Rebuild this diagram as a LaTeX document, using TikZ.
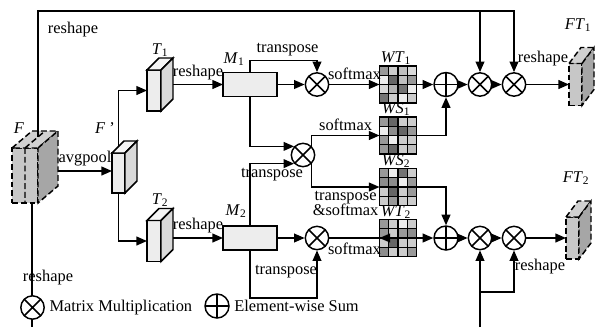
\documentclass[tikz,border=0pt]{standalone}
\usepackage{fontspec}
\setmainfont{Liberation Serif}
\usetikzlibrary{arrows.meta, calc}

\begin{document}
\begin{tikzpicture}[x=0.03cm, y=-0.03cm, line width=1.25pt,
  font=\fontsize{14}{15.5}\selectfont,
  arr/.style={-{Triangle[length=9pt,width=7.5pt]}},
  mul/.style={circle, draw, fill=white, minimum size=0.7cm, inner sep=0pt,
    path picture={\draw (path picture bounding box.north west) -- (path picture bounding box.south east)
      (path picture bounding box.north east) -- (path picture bounding box.south west);}},
  add/.style={circle, draw, fill=white, minimum size=0.72cm, inner sep=0pt,
    path picture={\draw (path picture bounding box.north) -- (path picture bounding box.south)
      (path picture bounding box.west) -- (path picture bounding box.east);}},
  box/.style={draw, fill=black!7, inner sep=0pt, outer sep=0pt},
  dsh/.style={dash pattern=on 5pt off 2.5pt},
  feat/.style={draw, dsh, fill=black!22, inner sep=0pt, outer sep=0pt},
  mat/.style={minimum size=1.11cm, inner sep=0pt, outer sep=0pt},
  cell/.style={draw, line width=0.9pt}]
\useasboundingbox (0,0) rectangle (600,327);

% input feature F
\node[feat, minimum width=0.78cm, minimum height=1.65cm] (F) at (25,175.5) {};
\filldraw[dsh, fill=black!18] (F.north west) -- ++(20,-17) -- ++(26,0) -- (F.north east) -- cycle;
\filldraw[dsh, fill=black!35] (F.north east) -- ++(20,-17) -- ++(0,55) -- (F.south east) -- cycle;
\draw[dsh] (F.north) -- (F.south) (F.north) -- ++(20,-17);
\node (lF) at (19,128) {\textit{F}};
\coordinate (Ftop) at (38,137);
\coordinate (Fbot) at (32,203);
\coordinate (Fside) at (58,171);

% pooled feature and T1, T2
\node[box, minimum width=0.39cm, minimum height=1.2cm] (Fp) at (118.5,173) {};
\filldraw[fill=black!4] (Fp.north west) -- ++(12,-12) -- ++(13,0) -- (Fp.north east) -- cycle;
\filldraw[fill=black!15] (Fp.north east) -- ++(12,-12) -- ++(0,40) -- (Fp.south east) -- cycle;
\node (lFp) at (105,128) {\textit{F} '};

\node[box, minimum width=0.42cm, minimum height=1.23cm] (T1) at (154,90.5) {};
\filldraw[fill=black!4] (T1.north west) -- ++(12,-12) -- ++(14,0) -- (T1.north east) -- cycle;
\filldraw[fill=black!15] (T1.north east) -- ++(12,-12) -- ++(0,41) -- (T1.south east) -- cycle;
\node (lT1) at (160,50) {\textit{T}\textsubscript{1}};
\coordinate (T1s) at ($(T1.east)+(12,-6)$);

\node[box, minimum width=0.42cm, minimum height=1.23cm] (T2) at (154,241) {};
\filldraw[fill=black!4] (T2.north west) -- ++(12,-12) -- ++(14,0) -- (T2.north east) -- cycle;
\filldraw[fill=black!15] (T2.north east) -- ++(12,-12) -- ++(0,41) -- (T2.south east) -- cycle;
\node (lT2) at (160,200) {\textit{T}\textsubscript{2}};
\coordinate (T2s) at ($(T2.east)+(12,-6)$);

% M1, M2
\node[box, minimum width=1.62cm, minimum height=0.72cm] (M1) at (250,84.5) {};
\node (lM1) at (234,59) {\textit{M}\textsubscript{1}};
\node[box, minimum width=1.62cm, minimum height=0.72cm] (M2) at (250,238) {};
\node (lM2) at (236,211) {\textit{M}\textsubscript{2}};

% operators
\node[mul] (a1) at (317,84.5) {};
\node[mul] (m) at (303,155) {};
\node[mul] (a2) at (317,238) {};
\node[add] (p1) at (446,84.5) {};
\node[mul] (r1a) at (480,84.5) {};
\node[mul] (r1b) at (514,84.5) {};
\node[add] (p2) at (446,238) {};
\node[mul] (r2a) at (480,238) {};
\node[mul] (r2b) at (514,238) {};

% weight matrices
\node[mat] (wt1) at (398,84.5) {};
\node[mat] (ws1) at (398,135.5) {};
\node[mat] (ws2) at (398,187) {};
\node[mat] (wt2) at (398,238) {};
\foreach \m/\vals in {wt1/{40,20,25,15,7,60,25,40,15,30,55,7,55,20,7,20},
                      ws1/{40,60,20,20,7,45,60,40,40,7,20,20,40,60,20,25},
                      ws2/{40,7,55,20,45,45,7,40,20,60,20,40,20,40,20,20},
                      wt2/{40,20,7,20,40,20,40,45,20,60,20,20,45,20,20,40}}
  \foreach \g [count=\i from 0] in \vals
    \filldraw[cell, fill=black!\g] ($(\m.north west)+({mod(\i,4)*9.25},{int(\i/4)*9.25})$) rectangle ++(9.25,9.25);
\node (lWT1) at (396,58) {\textit{WT}\textsubscript{1}};
\node (lWS1) at (396,109) {\textit{WS}\textsubscript{1}};
\node (lWS2) at (396,161) {\textit{WS}\textsubscript{2}};
\node (lWT2) at (396,212) {\textit{WT}\textsubscript{2}};

% outputs
\node[feat, minimum width=0.39cm, minimum height=1.26cm] (FT1) at (575.5,84.5) {};
\filldraw[dsh, fill=black!18] (FT1.north west) -- ++(12,-16) -- ++(13,0) -- (FT1.north east) -- cycle;
\filldraw[dsh, fill=black!35] (FT1.north east) -- ++(12,-16) -- ++(0,42) -- (FT1.south east) -- cycle;
\node (lFT1) at (578,25) {\textit{FT}\textsubscript{1}};
\node[feat, minimum width=0.39cm, minimum height=1.26cm] (FT2) at (572.5,238) {};
\filldraw[dsh, fill=black!18] (FT2.north west) -- ++(12,-16) -- ++(13,0) -- (FT2.north east) -- cycle;
\filldraw[dsh, fill=black!35] (FT2.north east) -- ++(12,-16) -- ++(0,42) -- (FT2.south east) -- cycle;
\node (lFT2) at (576,178) {\textit{FT}\textsubscript{2}};

% long skip lines
\coordinate (topR) at (514,11);
\coordinate (botL) at (32,327);
\coordinate (botR) at (480,327);
\coordinate (botJ) at (480,292);
\draw[arr] (Ftop) |- (topR) -- (r1b.north);
\draw[arr] (r1a.north |- topR) -- (r1a.north);
\draw (Fbot) -- (botL);
\draw[arr] (botR) -- (r2a.south);
\draw[arr] (botJ) -| (r2b.south);
\node (rs0) at (73,30) {reshape};
\node (rs5) at (48,278) {reshape};

% left part
\draw[arr] (Fside) -- (Fside -| Fp.west) node[midway, above] (avg) {avgpool};
\draw[arr] ($(Fp.north)+(0,-6)$) |- (T1.west);
\draw[arr] (Fp.south) |- (T2.west);
\draw[arr] (T1s) -- (M1.west) node[midway, above] (rs1) {reshape};
\draw[arr] (M2.west -| T2s) -- (M2.west) node[midway, above] (rs2) {reshape};

% middle part
\draw[arr] (M1.east) -- (a1.west);
\draw[arr] (M1.north) -- ++(0,-12) -| (a1.north) node[pos=0.28, above] (tp1) {transpose};
\draw[arr] (a1.east) -- (wt1.west) node[midway, above] (sm1) {softmax};
\draw[arr] (M1.south) |- (m.136);
\draw[arr] (M2.north) |- (m.224) node[pos=0.75, below] (tp2) {transpose};
\draw[arr] (m.46) |- (ws1.west) node[pos=0.75, above] (sm2) {softmax};
\draw[arr] (m.-46) |- (ws2.west) node[pos=0.75, below, align=center] (tp3) {transpose\\[-3pt]\&softmax};
\draw[arr] (M2.east) -- (a2.west);
\draw[arr] (M2.south) -- ++(0,48) -| (a2.south);
\node (tp4) at (286,272) {transpose};
\draw[-{Triangle[reversed,length=9pt,width=7.5pt]}, shorten >=-9pt] (a2.east) -- (wt2.west) node[midway, below] (sm3) {softmax};

% right part
\draw[arr] (wt1.east) -- (p1.west);
\draw[arr] (ws1.east) -| (p1.south);
\draw[arr] (p1.east) -- (r1a.west);
\draw[arr] (r1a.east) -- (r1b.west);
\draw[arr] (r1b.east) -- (FT1.west);
\node (rs3) at (543,59) {reshape};
\draw[arr] (ws2.east) -| (p2.north);
\draw[arr] (wt2.east) -- (p2.west);
\draw[arr] (p2.east) -- (r2a.west);
\draw[arr] (r2a.east) -- (r2b.west);
\draw[arr] (r2b.east) -- (FT2.west);
\node (rs4) at (540,267) {reshape};

% legend
\node[mul] (legMul) at (32.5,307.5) {};
\node[right] (legMulTxt) at (legMul.east) {Matrix Multiplication};
\node[add] (legAdd) at (217,306) {};
\node[right] (legAddTxt) at (legAdd.east) {Element-wise Sum};
\end{tikzpicture}
\end{document}
